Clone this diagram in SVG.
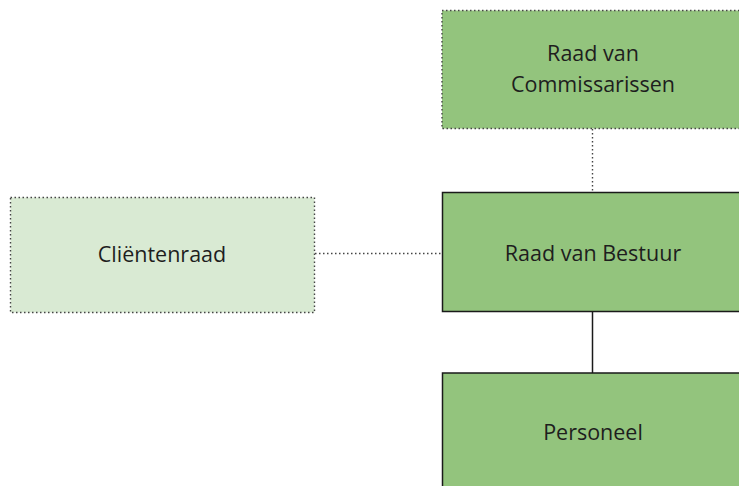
<svg xmlns="http://www.w3.org/2000/svg" width="739" height="486" viewBox="0 0 739 486">
<style>
.t{font-family:"Open Sans","Noto Sans",sans-serif;font-size:21.5px;fill:#1e1e1e;text-anchor:middle}
.dk{fill:#93c47d}
.lt{fill:#d9ead3}
.dot{stroke:#444;stroke-width:1.4;stroke-dasharray:1.5 2.5;fill:none}
.sol{stroke:#1a1a1a;stroke-width:1.5}
</style>
<rect width="739" height="486" fill="#fff"/>
<g id="connectors">
<line class="dot" x1="592.5" y1="129" x2="592.5" y2="192"/>
<line class="dot" x1="315" y1="253.5" x2="442" y2="253.5"/>
<line class="sol" x1="592.5" y1="312" x2="592.5" y2="373"/>
</g>
<g id="rvc">
<rect class="dk" x="442" y="10.5" width="302" height="118"/>
<rect class="dot" x="442" y="10.5" width="302" height="118"/>
<text class="t" x="593" y="61">Raad van</text>
<text class="t" x="593" y="92">Commissarissen</text>
</g>
<g id="clientenraad">
<rect class="lt" x="10.5" y="197.5" width="304" height="115"/>
<rect class="dot" x="10.5" y="197.5" width="304" height="115"/>
<text class="t" x="162" y="262">Cliëntenraad</text>
</g>
<g id="rvb">
<rect class="dk sol" x="442.5" y="192.5" width="302" height="119"/>
<text class="t" x="593" y="261">Raad van Bestuur</text>
</g>
<g id="personeel">
<rect class="dk sol" x="442.5" y="373" width="302" height="130"/>
<text class="t" x="593" y="440">Personeel</text>
</g>
</svg>
